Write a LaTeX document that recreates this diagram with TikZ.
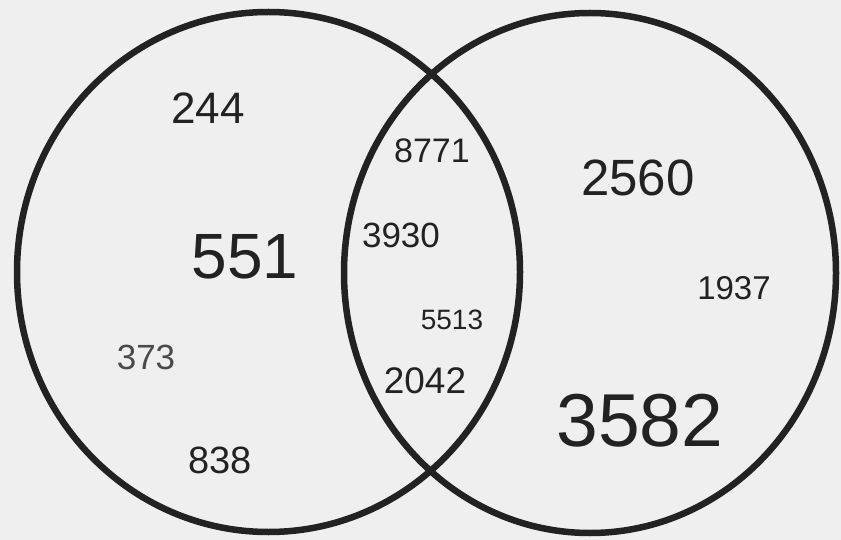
\documentclass[tikz,border=0pt]{standalone}
\usepackage{fontspec}
\setmainfont{Liberation Sans}
\usetikzlibrary{positioning}
\definecolor{cInk}{HTML}{222222}
\definecolor{cInkL}{HTML}{4A4A4A}
\definecolor{cPaper}{HTML}{EFEFEF}
\newcommand{\fsz}[1]{\fontsize{#1}{#1}\selectfont}
\tikzset{
  ring/.style  = {draw=cInk, line width=6.5pt},
  num/.style   = {text=cInk, inner sep=0pt},
  numl/.style  = {num, text=cInkL},
}
\begin{document}
\begin{tikzpicture}[x=1pt,y=-1pt]
  \fill[cPaper] (0,0) rectangle (841,540);
  % the two sets
  \draw[ring] (268.5,272) ellipse [x radius=251.5pt, y radius=260pt];
  \draw[ring] (590,273) ellipse [x radius=246pt, y radius=260pt];
  % left part
  \node[num, font=\fsz{44}] (nTop)   at (208,108) {244};
  \node[num, font=\fsz{64}] (nMid)   at (245,257) {551};
  \node[numl, font=\fsz{35}] (nLow)  at (146,357) {373};
  \node[num, font=\fsz{38}] (nBot)   at (220,460) {838};
  % common part
  \node[num, font=\fsz{34}] (cTop)   at (432,151) {8771};
  \node[num, font=\fsz{35}] (cMid)   at (401,235) {3930};
  \node[num, font=\fsz{28}] (cLow)   at (452,320) {5513};
  \node[num, font=\fsz{37}] (cBot)   at (425,381) {2042};
  % right part
  \node[num, font=\fsz{51}] (rTop)   at (638,178) {2560};
  \node[num, font=\fsz{33}] (rMid)   at (734,288) {1937};
  \node[num, font=\fsz{75}] (rBot)   at (640,421) {3582};
\end{tikzpicture}
\end{document}
